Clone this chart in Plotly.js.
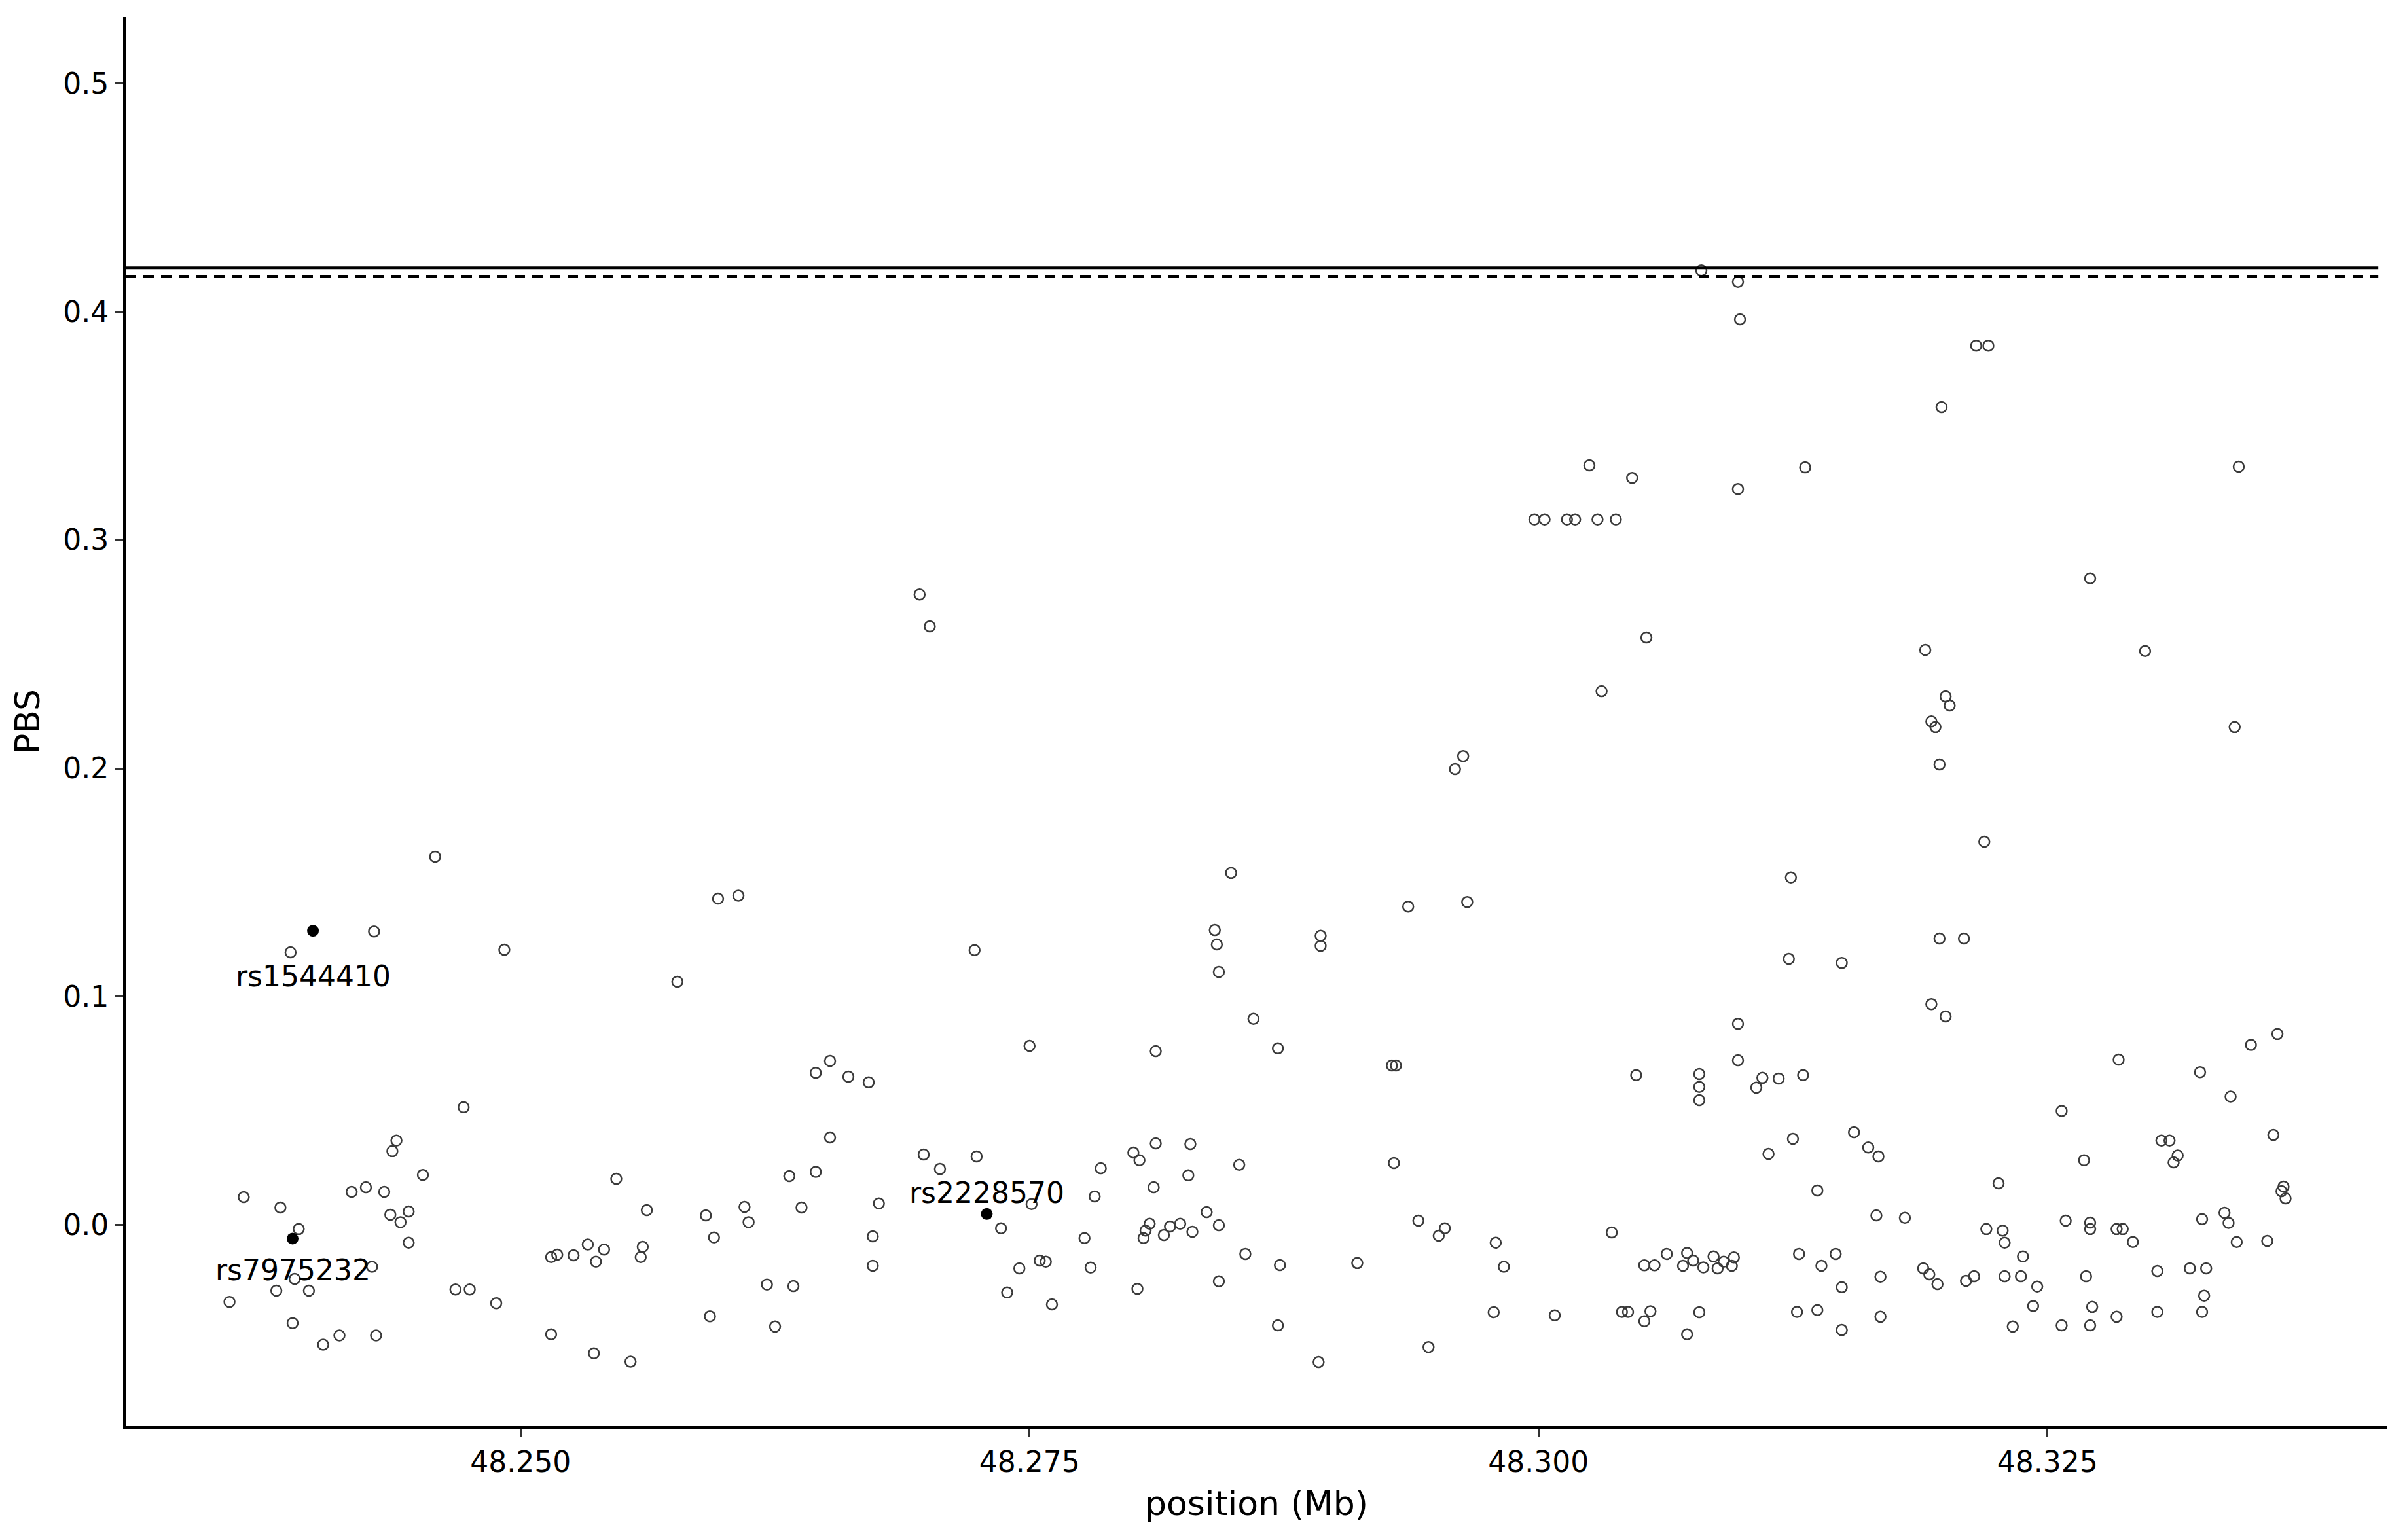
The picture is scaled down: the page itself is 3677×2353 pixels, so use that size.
<!DOCTYPE html>
<html>
<head>
<meta charset="utf-8">
<script src="https://cdn.plot.ly/plotly-3.0.1.min.js"></script>
<style>html,body{margin:0;padding:0;background:#fff;}#chart{width:3677px;height:2353px;}</style>
</head>
<body>
<div id="chart"></div>
<script>
// ---------- data ----------
const positionMb = [
48.2458,48.3025,48.3046,48.2998,48.3003,48.3014,48.3018,48.3029,48.3038,48.2696,
48.2701,48.3031,48.2963,48.2959,48.2849,48.3080,48.3098,48.3099,48.3215,48.3221,
48.3198,48.3131,48.3098,48.3344,48.3271,48.3053,48.3190,48.3298,48.3200,48.3202,
48.3193,48.3195,48.3342,48.3197,48.3219,48.3124,48.2428,48.2387,48.2492,48.2472,
48.2439,48.2437,48.2452,48.2364,48.2382,48.2417,48.2424,48.2433,48.2436,48.2445,
48.2441,48.2445,48.2391,48.2427,48.2389,48.2380,48.2396,48.2357,48.2468,48.2475,
48.2488,48.2388,48.2411,48.2403,48.2429,48.2597,48.2607,48.2577,48.2645,48.2652,
48.2661,48.2671,48.2652,48.2547,48.2632,48.2645,48.2562,48.2591,48.2610,48.2612,
48.2638,48.2676,48.2673,48.2673,48.2595,48.2515,48.2518,48.2526,48.2533,48.2541,
48.2537,48.2560,48.2559,48.2621,48.2634,48.2593,48.2625,48.2515,48.2536,48.2554,
48.2841,48.2842,48.2843,48.2860,48.2723,48.2750,48.2812,48.2698,48.2706,48.2724,
48.2736,48.2801,48.2804,48.2812,48.2829,48.2785,48.2853,48.2828,48.2811,48.2782,
48.2837,48.2843,48.2809,48.2807,48.2806,48.2816,48.2819,48.2824,48.2830,48.2777,
48.2856,48.2755,48.2758,48.2745,48.2780,48.2843,48.2739,48.2803,48.2761,48.2751,
48.2936,48.2965,48.2893,48.2893,48.2872,48.2928,48.2930,48.3048,48.2929,48.2941,
48.2954,48.2951,48.2979,48.2983,48.3036,48.2873,48.2911,48.2978,48.3008,48.3041,
48.3044,48.2872,48.2892,48.2946,48.3197,48.3209,48.3123,48.3149,48.3193,48.3200,
48.3098,48.3098,48.3079,48.3079,48.3079,48.3110,48.3107,48.3118,48.3130,48.3125,
48.3113,48.3155,48.3162,48.3167,48.3137,48.3166,48.3180,48.3226,48.3220,48.3228,
48.3229,48.3238,48.3229,48.3237,48.3233,48.3052,48.3057,48.3063,48.3073,48.3071,
48.3076,48.3081,48.3086,48.3088,48.3091,48.3096,48.3095,48.3128,48.3139,48.3146,
48.3149,48.3168,48.3189,48.3192,48.3196,48.3210,48.3214,48.3055,48.3052,48.3079,
48.3073,48.3127,48.3137,48.3149,48.3168,48.3363,48.3350,48.3285,48.3325,48.3340,
48.3257,48.3361,48.3306,48.3310,48.3314,48.3312,48.3268,48.3365,48.3367,48.3366,
48.3337,48.3339,48.3326,48.3259,48.3271,48.3271,48.3284,48.3287,48.3292,48.3343,
48.3358,48.3245,48.3269,48.3304,48.3320,48.3328,48.3327,48.3326,48.3243,48.3272,
48.3284,48.3304,48.3257,48.3271
];
const pbsValues = [
0.1613,0.3327,0.3272,0.3090,0.3090,0.3090,0.3090,0.3090,0.3090,0.2762,
0.2622,0.2338,0.2054,0.1997,0.1542,0.4180,0.4130,0.3966,0.3851,0.3851,
0.3582,0.3318,0.3223,0.3321,0.2832,0.2573,0.2519,0.2514,0.2315,0.2275,
0.2206,0.2181,0.2181,0.2017,0.1679,0.1522,0.1286,0.1195,0.1206,0.0516,
0.0370,0.0324,0.0220,0.0123,0.0077,0.0146,0.0166,0.0146,0.0046,0.0060,
0.0013,-0.0077,-0.0017,-0.0182,-0.0235,-0.0287,-0.0287,-0.0336,-0.0282,-0.0282,
-0.0342,-0.0429,-0.0483,-0.0523,-0.0483,0.1430,0.1443,0.1066,0.0667,0.0719,
0.0650,0.0625,0.0384,0.0203,0.0215,0.0233,0.0066,0.0043,0.0080,0.0013,
0.0077,0.0095,-0.0049,-0.0178,-0.0054,-0.0140,-0.0129,-0.0132,-0.0085,-0.0107,
-0.0160,-0.0095,-0.0140,-0.0260,-0.0267,-0.0399,-0.0444,-0.0478,-0.0561,-0.0598,
0.1292,0.1229,0.1109,0.0903,0.1204,0.0785,0.0762,0.0309,0.0246,0.0301,
-0.0014,0.0318,0.0284,0.0358,0.0355,0.0249,0.0264,0.0218,0.0166,0.0126,
0.0057,0.0000,0.0006,-0.0024,-0.0057,-0.0043,-0.0006,0.0006,-0.0029,-0.0057,
-0.0126,-0.0155,-0.0160,-0.0189,-0.0186,-0.0246,-0.0295,-0.0279,-0.0347,0.0092,
0.1395,0.1415,0.1267,0.1223,0.0774,0.0699,0.0699,0.0657,0.0272,0.0020,
-0.0014,-0.0046,-0.0077,-0.0182,-0.0032,-0.0175,-0.0166,-0.0381,-0.0395,-0.0380,
-0.0380,-0.0439,-0.0599,-0.0534,0.1255,0.1255,0.1166,0.1148,0.0968,0.0914,
0.0882,0.0722,0.0662,0.0605,0.0547,0.0645,0.0602,0.0642,0.0657,0.0378,
0.0312,0.0407,0.0340,0.0301,0.0152,0.0043,0.0032,0.0183,-0.0017,-0.0024,
-0.0077,-0.0137,-0.0224,-0.0224,-0.0444,-0.0176,-0.0176,-0.0126,-0.0122,-0.0178,
-0.0155,-0.0185,-0.0137,-0.0189,-0.0160,-0.0141,-0.0178,-0.0126,-0.0178,-0.0126,
-0.0272,-0.0226,-0.0189,-0.0215,-0.0258,-0.0244,-0.0224,-0.0377,-0.0421,-0.0381,
-0.0478,-0.0380,-0.0372,-0.0459,-0.0401,0.0837,0.0789,0.0725,0.0670,0.0563,
0.0500,0.0395,0.0370,0.0370,0.0305,0.0275,0.0284,0.0149,0.0117,0.0169,
0.0054,0.0010,0.0026,0.0020,0.0011,-0.0017,-0.0017,-0.0017,-0.0074,-0.0074,
-0.0069,-0.0269,-0.0224,-0.0201,-0.0189,-0.0189,-0.0309,-0.0380,-0.0354,-0.0358,
-0.0401,-0.0380,-0.0439,-0.0439
];
const snpNames = ['rs1544410', 'rs7975232', 'rs2228570'];
const snpPositionMb = [48.2398, 48.2388, 48.2729];
const snpPBS = [0.1289, -0.0059, 0.0049];
const thresholdSolid = 0.4192;
const thresholdDashed = 0.4155;
const xTickVals = [48.250, 48.275, 48.300, 48.325];
const xTickText = ['48.250', '48.275', '48.300', '48.325'];
const yTickVals = [0.0, 0.1, 0.2, 0.3, 0.4, 0.5];
const yTickText = ['0.0', '0.1', '0.2', '0.3', '0.4', '0.5'];

// ---------- styling ----------
const FONT = 'DejaVu Sans, Liberation Sans, Arial, sans-serif';
const labelShift = [-69, -48, 32];

const traces = [
  {
    type: 'scatter', mode: 'markers',
    x: positionMb, y: pbsValues,
    marker: {symbol: 'circle', size: 16, color: 'rgba(255,255,255,0)', line: {color: '#3a3a3a', width: 2.5}},
    hoverinfo: 'skip', cliponaxis: false
  },
  {
    type: 'scatter', mode: 'markers',
    x: snpPositionMb, y: snpPBS,
    marker: {symbol: 'circle', size: 18, color: '#000', line: {width: 0}},
    hoverinfo: 'skip'
  }
];

const layout = {
  width: 3677, height: 2353,
  paper_bgcolor: '#fff', plot_bgcolor: '#fff',
  margin: {l: 192, r: 30, t: 26, b: 174, pad: 0},
  showlegend: false,
  font: {family: FONT, color: '#000'},
  xaxis: {
    range: [48.2306, 48.3417],
    tickmode: 'array', tickvals: xTickVals, ticktext: xTickText,
    showgrid: false, zeroline: false,
    showline: true, linecolor: '#000', linewidth: 4,
    ticks: 'outside', ticklen: 13, tickwidth: 3, tickcolor: '#333',
    tickfont: {family: FONT, size: 44, color: '#000'},
    title: {text: 'position (Mb)', font: {family: FONT, size: 52, color: '#000'}, standoff: 22}
  },
  yaxis: {
    range: [-0.088, 0.529],
    tickmode: 'array', tickvals: yTickVals, ticktext: yTickText,
    showgrid: false, zeroline: false,
    showline: true, linecolor: '#000', linewidth: 4,
    ticks: 'outside', ticklen: 13, tickwidth: 3, tickcolor: '#333',
    tickfont: {family: FONT, size: 44, color: '#000'},
    title: {text: 'PBS', font: {family: FONT, size: 52, color: '#000'}, standoff: 20}
  },
  shapes: [
    {type: 'line', xref: 'paper', yref: 'y', x0: 0, x1: 0.996, y0: thresholdSolid, y1: thresholdSolid,
     line: {color: '#000', width: 4}},
    {type: 'line', xref: 'paper', yref: 'y', x0: 0, x1: 0.996, y0: thresholdDashed, y1: thresholdDashed,
     line: {color: '#000', width: 4, dash: '16px,11px'}}
  ],
  annotations: snpNames.map((n, i) => ({
    x: snpPositionMb[i], y: snpPBS[i], xref: 'x', yref: 'y',
    text: n, showarrow: false, xanchor: 'center', yanchor: 'middle',
    yshift: labelShift[i],
    font: {family: FONT, size: 44, color: '#000'}
  }))
};

Plotly.newPlot('chart', traces, layout, {staticPlot: true, displayModeBar: false});
</script>
</body>
</html>
